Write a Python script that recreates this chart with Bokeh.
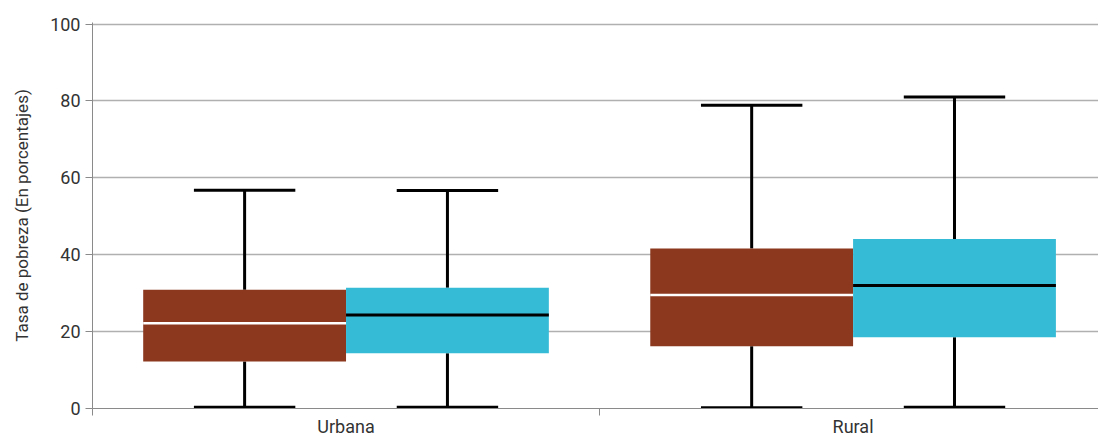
from bokeh.plotting import figure
from bokeh.models import ColumnDataSource, FixedTicker, Range1d
from bokeh.embed import file_html
from bokeh.resources import INLINE

# ---- data ----
categories = ["Urbana", "Rural"]
series_names = ["Serie 1", "Serie 2"]
series_colors = ["#8B381F", "#36BBD6"]
median_colors = ["#FFFFFF", "#000000"]

s1_lower = [0.3, 0.2]
s1_q1 = [12.2, 16.2]
s1_median = [22.2, 29.5]
s1_q3 = [30.9, 41.6]
s1_upper = [56.8, 78.9]

s2_lower = [0.3, 0.3]
s2_q1 = [14.4, 18.5]
s2_median = [24.3, 32.0]
s2_q3 = [31.4, 44.1]
s2_upper = [56.7, 81.0]

y_ticks = [0, 20, 40, 60, 80, 100]

series = [
    (s1_lower, s1_q1, s1_median, s1_q3, s1_upper),
    (s2_lower, s2_q1, s2_median, s2_q3, s2_upper),
]

FONT = "Roboto"
TXT = "#333333"

p = figure(width=1098, height=439, output_backend="svg", toolbar_location=None,
           x_range=Range1d(0, 1.984), y_range=Range1d(0, 100.4),
           min_border_left=92, min_border_right=0, min_border_top=22, min_border_bottom=0)
p.outline_line_color = None
p.background_fill_color = "white"
p.border_fill_color = "white"

box_w = 0.4
cap_w = 0.2
offsets = [-0.2, 0.2]

for k, (lo, q1, med, q3, up) in enumerate(series):
    xs = [i + 0.5 + offsets[k] for i in range(len(categories))]
    src = ColumnDataSource(dict(x=xs, lo=lo, q1=q1, med=med, q3=q3, up=up,
                                cl=[x - cap_w / 2 for x in xs], cr=[x + cap_w / 2 for x in xs],
                                bl=[x - box_w / 2 for x in xs], br=[x + box_w / 2 for x in xs]))
    # whiskers
    p.segment(x0="x", y0="q3", x1="x", y1="up", source=src, line_color="black", line_width=3)
    p.segment(x0="x", y0="q1", x1="x", y1="lo", source=src, line_color="black", line_width=3)
    p.segment(x0="cl", y0="up", x1="cr", y1="up", source=src, line_color="black", line_width=3)
    p.segment(x0="cl", y0="lo", x1="cr", y1="lo", source=src, line_color="black", line_width=3)
    # box
    p.vbar(x="x", width=box_w, top="q3", bottom="q1", source=src,
           fill_color=series_colors[k], line_color=None)
    # median
    p.segment(x0="bl", y0="med", x1="br", y1="med", source=src,
              line_color=median_colors[k], line_width=2.5 if k == 0 else 3)

# y axis
p.yaxis.ticker = FixedTicker(ticks=y_ticks)
p.yaxis.axis_label = "Tasa de pobreza (En porcentajes)"
p.yaxis.axis_label_text_font = FONT
p.yaxis.axis_label_text_font_size = "17px"
p.yaxis.axis_label_text_font_style = "normal"
p.yaxis.axis_label_text_color = TXT
p.yaxis.axis_label_standoff = 15
p.yaxis.major_label_text_font = FONT
p.yaxis.major_label_text_font_size = "18px"
p.yaxis.major_label_text_color = TXT
p.yaxis.major_label_standoff = 5
p.yaxis.major_tick_out = 7
p.yaxis.major_tick_in = 0
p.yaxis.minor_tick_line_color = None
p.yaxis.axis_line_color = "#8a8a8a"
p.yaxis.major_tick_line_color = "#8a8a8a"

# x axis
centers = [i + 0.5 for i in range(len(categories))]
bounds = [float(i) for i in range(len(categories) + 1)]
p.xaxis.ticker = FixedTicker(ticks=centers, minor_ticks=bounds)
p.xaxis.major_label_overrides = {c: name for c, name in zip(centers, categories)}
p.xaxis.major_label_text_font = FONT
p.xaxis.major_label_text_font_size = "18px"
p.xaxis.major_label_text_color = TXT
p.xaxis.major_label_standoff = 0
p.xaxis.major_tick_out = 0
p.xaxis.major_tick_in = 0
p.xaxis.minor_tick_out = 7
p.xaxis.minor_tick_in = 0
p.xaxis.minor_tick_line_color = "#8a8a8a"
p.xaxis.axis_line_color = "#8a8a8a"

# grid
p.xgrid.grid_line_color = None
p.ygrid.ticker = FixedTicker(ticks=y_ticks[1:])
p.ygrid.grid_line_color = "#b0b0b0"
p.ygrid.grid_line_width = 1.5

open("out.html", "w").write(file_html(p, INLINE))
